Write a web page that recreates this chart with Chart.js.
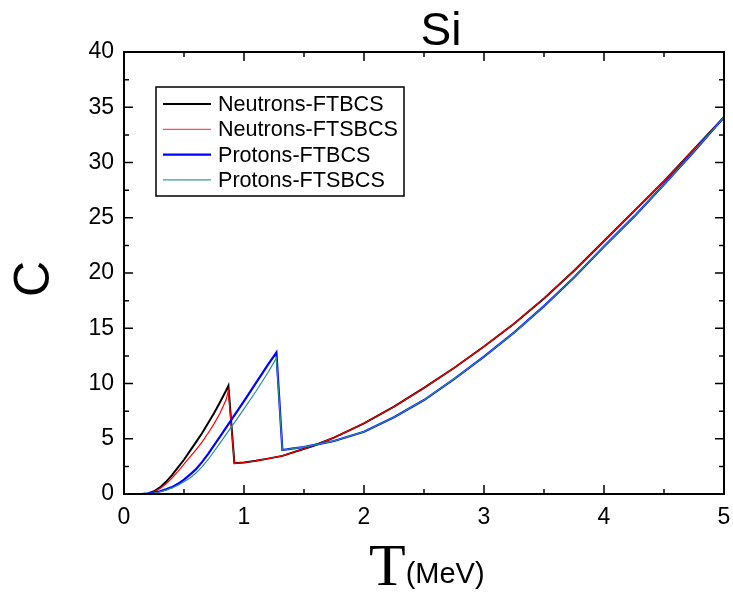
<!DOCTYPE html>
<html>
<head>
<meta charset="utf-8">
<script src="https://cdn.jsdelivr.net/npm/chart.js@4.4.1/dist/chart.umd.min.js"></script>
<style>
  html, body { margin: 0; padding: 0; background: #fff; }
  #wrap { width: 733px; height: 601px; }
</style>
</head>
<body>
<div id="wrap"><canvas id="grafico" width="733" height="601"></canvas></div>
<script>
// temperatures (MeV)
const tNeutrons = [0.15, 0.2, 0.25, 0.3, 0.35, 0.4, 0.45, 0.5, 0.55, 0.6, 0.65, 0.7, 0.75, 0.8, 0.85, 0.87,
  0.92, 1.0, 1.1, 1.2, 1.32, 1.47, 1.58, 1.75, 2.0, 2.25, 2.5, 2.75, 3.0, 3.25, 3.5, 3.75, 4.0, 4.25, 4.5, 4.75, 5.0];
const tProtons = [0.15, 0.2, 0.25, 0.3, 0.35, 0.4, 0.45, 0.5, 0.55, 0.6, 0.65, 0.7, 0.8, 0.9, 1.0, 1.1, 1.2, 1.27,
  1.32, 1.4, 1.5, 1.58, 1.75, 2.0, 2.25, 2.5, 2.75, 3.0, 3.25, 3.5, 3.75, 4.0, 4.25, 4.5, 4.75, 5.0];

// specific heat C
const neutronsFTBCS = [0, 0.05, 0.25, 0.6, 1.1, 1.7, 2.4, 3.1, 3.9, 4.7, 5.5, 6.4, 7.3, 8.3, 9.35, 9.8,
  2.78, 2.85, 3.0, 3.2, 3.45, 3.98, 4.37, 5.1, 6.4, 7.9, 9.6, 11.4, 13.35, 15.4, 17.7, 20.2, 22.9, 25.6, 28.3, 31.2, 34.1];
const neutronsFTSBCS = [0, 0.05, 0.2, 0.5, 0.9, 1.45, 2.05, 2.7, 3.35, 4.0, 4.7, 5.5, 6.35, 7.3, 8.5, 9.35,
  2.78, 2.85, 3.0, 3.2, 3.45, 3.98, 4.37, 5.1, 6.4, 7.9, 9.6, 11.4, 13.35, 15.4, 17.7, 20.2, 22.9, 25.6, 28.3, 31.2, 34.1];
const protonsFTBCS = [0, 0.04, 0.12, 0.25, 0.42, 0.62, 0.92, 1.3, 1.75, 2.25, 2.88, 3.6, 5.2, 6.8, 8.4, 10.05, 11.7, 12.8,
  3.98, 4.1, 4.25, 4.42, 4.8, 5.64, 6.95, 8.5, 10.4, 12.43, 14.6, 17.0, 19.6, 22.4, 25.1, 28.0, 31.0, 34.1];
const protonsFTSBCS = [0, 0.03, 0.09, 0.2, 0.35, 0.55, 0.8, 1.1, 1.45, 1.9, 2.45, 3.1, 4.6, 6.15, 7.7, 9.3, 11.0, 12.3,
  3.98, 4.1, 4.25, 4.42, 4.8, 5.64, 6.95, 8.5, 10.4, 12.43, 14.6, 17.0, 19.6, 22.4, 25.1, 28.0, 31.0, 34.1];

const seriesLabels = ["Neutrons-FTBCS", "Neutrons-FTSBCS", "Protons-FTBCS", "Protons-FTSBCS"];
const chartTitle = "Si";

const pontos = (ts, vs) => ts.map((t, i) => ({ x: t, y: vs[i] }));

const decor = {
  id: "decor",
  afterDraw(chart) {
    const { ctx, chartArea: a, scales: { x, y } } = chart;
    ctx.save();
    ctx.strokeStyle = "#000";
    ctx.fillStyle = "#000";

    // inward ticks on all four sides
    ctx.lineWidth = 1.5;
    ctx.beginPath();
    for (let i = 0; i <= 10; i++) {
      const px = x.getPixelForValue(i * 0.5);
      const len = i % 2 === 0 ? 9 : 5;
      ctx.moveTo(px, a.bottom); ctx.lineTo(px, a.bottom - len);
      ctx.moveTo(px, a.top); ctx.lineTo(px, a.top + len);
    }
    for (let i = 0; i <= 16; i++) {
      const py = y.getPixelForValue(i * 2.5);
      const len = i % 2 === 0 ? 9 : 5;
      ctx.moveTo(a.left, py); ctx.lineTo(a.left + len, py);
      ctx.moveTo(a.right, py); ctx.lineTo(a.right - len, py);
    }
    ctx.stroke();

    // frame
    ctx.lineWidth = 2;
    ctx.strokeRect(a.left, a.top, a.right - a.left, a.bottom - a.top);

    // title
    ctx.textAlign = "center";
    ctx.textBaseline = "alphabetic";
    ctx.font = '46px "Liberation Sans", Arial, sans-serif';
    ctx.fillText(chartTitle, 441, 45);

    // y title
    ctx.save();
    ctx.translate(49, 279);
    ctx.rotate(-Math.PI / 2);
    ctx.font = '50px "Liberation Sans", Arial, sans-serif';
    ctx.fillText("C", 0, 0);
    ctx.restore();

    // x title: T(MeV)
    ctx.textAlign = "left";
    ctx.font = '60px "Liberation Serif", "Times New Roman", serif';
    ctx.fillText("T", 369, 585);
    const tw = ctx.measureText("T").width;
    ctx.font = '29px "Liberation Sans", Arial, sans-serif';
    ctx.fillText("(MeV)", 369 + tw, 583);

    // legend
    ctx.lineWidth = 1.5;
    ctx.strokeRect(156, 87, 248, 109);
    ctx.font = '21.6px "Liberation Sans", Arial, sans-serif';
    ctx.textBaseline = "middle";
    chart.data.datasets.forEach((ds, i) => {
      const ly = 104 + i * 25.3;
      ctx.strokeStyle = ds.legendColor;
      ctx.lineWidth = ds.borderWidth;
      ctx.beginPath();
      ctx.moveTo(163, ly); ctx.lineTo(211, ly);
      ctx.stroke();
      ctx.fillText(ds.label, 218, ly + 1);
    });
    ctx.restore();
  },
};

new Chart(document.getElementById("grafico").getContext("2d"), {
  type: "line",
  data: {
    datasets: [
      { label: seriesLabels[0], data: pontos(tNeutrons, neutronsFTBCS), borderColor: "#000000", legendColor: "#000000", borderWidth: 2, order: 4 },
      { label: seriesLabels[1], data: pontos(tNeutrons, neutronsFTSBCS), borderColor: "#ff0000", legendColor: "#ff5050", borderWidth: 1.2, order: 3 },
      { label: seriesLabels[2], data: pontos(tProtons, protonsFTBCS), borderColor: "#0000ff", legendColor: "#0000ff", borderWidth: 2.2, order: 2 },
      { label: seriesLabels[3], data: pontos(tProtons, protonsFTSBCS), borderColor: "#2a8f8f", legendColor: "#3a9a9a", borderWidth: 1.2, order: 1 },
    ],
  },
  options: {
    responsive: false,
    animation: false,
    events: [],
    layout: { padding: { top: 52, right: 9, left: 0, bottom: 0 } },
    elements: { point: { radius: 0 }, line: { tension: 0 } },
    plugins: { legend: { display: false }, title: { display: false }, tooltip: { enabled: false } },
    scales: {
      x: {
        type: "linear",
        min: 0,
        max: 5,
        ticks: { stepSize: 1, color: "#000", padding: 10, font: { family: "Liberation Sans", size: 23 } },
        grid: { display: false, drawTicks: false, tickLength: 0 },
        border: { display: false },
        afterFit: (s) => { s.height = 107; s.paddingLeft = 0; s.paddingRight = 0; },
      },
      y: {
        min: 0,
        max: 40,
        ticks: { stepSize: 5, color: "#000", padding: 10, font: { family: "Liberation Sans", size: 23 } },
        grid: { display: false, drawTicks: false, tickLength: 0 },
        border: { display: false },
        afterFit: (s) => { s.width = 124; s.paddingTop = 0; s.paddingBottom = 0; },
      },
    },
  },
  plugins: [decor],
});
</script>
</body>
</html>
